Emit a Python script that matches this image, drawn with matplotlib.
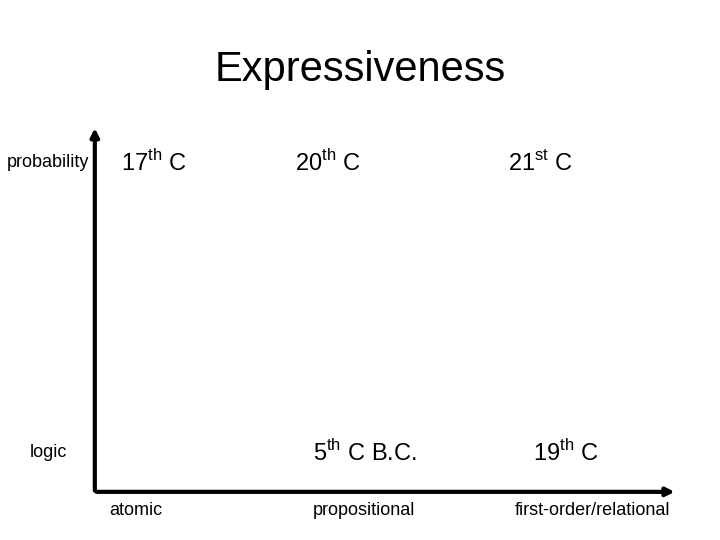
import matplotlib.pyplot as plt

plt.rcParams["font.family"] = ["Liberation Sans", "DejaVu Sans"]
plt.rcParams["mathtext.fontset"] = "custom"
plt.rcParams["mathtext.rm"] = "Liberation Sans"

TITLE = "Expressiveness"
x_categories = ["atomic", "propositional", "first-order/relational"]
y_categories = ["logic", "probability"]
cell_labels = [r"17$^{\rm th}$ C", r"20$^{\rm th}$ C", r"21$^{\rm st}$ C",
               r"5$^{\rm th}$ C B.C.", r"19$^{\rm th}$ C"]
cell_cols = [0, 1, 2, 1, 2]
cell_rows = [1, 1, 1, 0, 0]
# small horizontal nudges of cells relative to their column centre
cell_nudge = [0.08, -0.16, -0.23, 0.0, -0.12]

fig = plt.figure(figsize=(7.2, 5.4), dpi=100)
ax = fig.add_axes([0, 0, 1, 1])
ax.set_xlim(-0.595, 2.556)
ax.set_ylim(-0.30, 1.562)
ax.axis("off")

x0, y0 = -0.18, -0.134
ax.annotate("", xy=(x0, 1.13), xytext=(x0, y0 - 0.005),
            arrowprops=dict(arrowstyle="-|>", lw=3, color="black", mutation_scale=12))
ax.annotate("", xy=(2.37, y0), xytext=(x0 - 0.005, y0),
            arrowprops=dict(arrowstyle="-|>", lw=3, color="black", mutation_scale=12))

ax.text(0.98, 1.32, TITLE, ha="center", va="center", fontsize=30)

for i, lab in enumerate(x_categories):
    ax.text(i, -0.20, lab, ha="center", va="center", fontsize=13)
for j, lab in enumerate(y_categories):
    ax.text(-0.385, j, lab, ha="center", va="center", fontsize=13)

for lab, c, r, n in zip(cell_labels, cell_cols, cell_rows, cell_nudge):
    ax.text(c + n, r, lab, ha="center", va="center", fontsize=17)

fig.savefig("out.png", dpi=100)
